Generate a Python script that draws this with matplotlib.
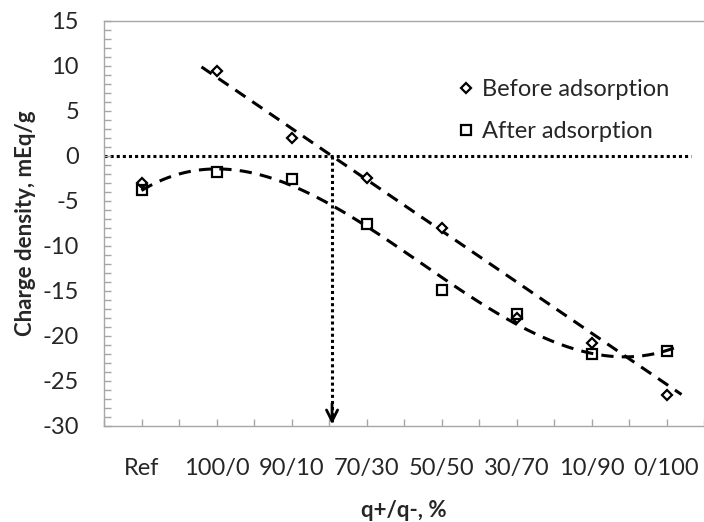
import numpy as np
import matplotlib
matplotlib.use("Agg")
import matplotlib.pyplot as plt
from matplotlib.ticker import MultipleLocator
from matplotlib.lines import Line2D

plt.rcParams['font.family'] = ['Lato', 'DejaVu Sans']
plt.rcParams['axes.unicode_minus'] = False

# donnees
categories = ['Ref', '100/0', '90/10', '70/30', '50/50', '30/70', '10/90', '0/100']
before = [-3.0, 9.4, 2.0, -2.5, -8.0, -18.0, -20.8, -26.6]
after = [-3.8, -1.8, -2.6, -7.6, -14.9, -17.6, -22.05, -21.7]

# droite de tendance "before" (extremites lues)
before_trend_x = [0.8, 7.2]
before_trend_y = [9.9, -26.5]
after_trend_range = [0.0, 7.15]

GRAY = '#a6a6a6'
TXT = '#262626'

fig = plt.figure(figsize=(7.04, 5.22), dpi=100)
ax = fig.add_axes([104 / 704, 96 / 522, 1 - 104 / 704, 405 / 522])

x = np.arange(len(categories))

# tendance polynomiale pour "after"
coef = np.polyfit(x, after, 3)
xs = np.linspace(after_trend_range[0], after_trend_range[1], 200)
ax.plot(xs, np.polyval(coef, xs), color='black', lw=2.2, dashes=(4, 2.7), zorder=2)
ax.plot(before_trend_x, before_trend_y, color='black', lw=2.2, dashes=(4, 2.7), zorder=2)

# ligne zero et fleche
ax.axhline(0, xmin=0, xmax=(7.33 + 0.5) / 8, color='black', lw=2.2, dashes=(1, 1), zorder=1)
slope = (before_trend_y[1] - before_trend_y[0]) / (before_trend_x[1] - before_trend_x[0])
x0 = before_trend_x[0] - before_trend_y[0] / slope
ax.plot([x0, x0], [0, -29.6], color='black', lw=2.2, dashes=(1, 1), zorder=1)
ax.annotate('', xy=(x0, -29.8), xytext=(x0, -27.5),
            arrowprops=dict(arrowstyle='->', lw=2.0, color='black', mutation_scale=20,
                            shrinkA=0, shrinkB=0))

ax.plot(x, before, linestyle='none', marker='D', ms=5.6, mfc='white', mec='black', mew=1.6, zorder=3)
ax.plot(x, after, linestyle='none', marker='s', ms=7.5, mfc='none', mec='black', mew=1.6, zorder=3)

ax.set_xlim(-0.5, 7.5)
ax.set_ylim(-30, 15)
ax.set_xticks(x)
ax.set_xticklabels(categories)
ax.xaxis.set_minor_locator(MultipleLocator(0.5))
ax.yaxis.set_major_locator(MultipleLocator(5))
ax.yaxis.set_minor_locator(MultipleLocator(1))

for side in ['left', 'bottom', 'top']:
    ax.spines[side].set_color(GRAY)
    ax.spines[side].set_linewidth(1.0)
ax.spines['right'].set_visible(False)

ax.tick_params(axis='both', which='both', direction='in', length=5, width=1.0, color=GRAY,
               labelsize=17, labelcolor=TXT)
ax.tick_params(axis='y', which='both', pad=18)
ax.tick_params(axis='x', which='both', pad=23)

ax.set_xlabel('q+/q-, %', fontsize=16, fontweight='bold', color=TXT, labelpad=15)
ax.set_ylabel('Charge density, mEq/g', fontsize=16, fontweight='bold', color=TXT, labelpad=5)

handles = [
    Line2D([], [], linestyle='none', marker='D', ms=5.6, mfc='white', mec='black', mew=1.6),
    Line2D([], [], linestyle='none', marker='s', ms=7.5, mfc='none', mec='black', mew=1.6),
]
ax.legend(handles, ['Before adsorption', 'After adsorption'], loc='upper left',
          bbox_to_anchor=((457 - 104) / 600, 1 - (79 - 21) / 405),
          frameon=False, fontsize=17, handlelength=0.8, handletextpad=0.25,
          labelspacing=0.9, borderpad=0, borderaxespad=0, labelcolor=TXT)

fig.savefig('out.png', dpi=100)
